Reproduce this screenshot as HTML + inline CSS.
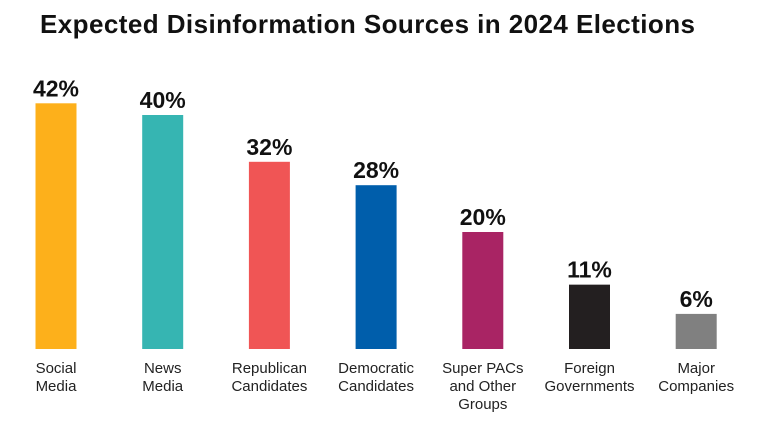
<!DOCTYPE html>
<html><head><meta charset="utf-8"><style>
body{margin:0;width:758px;height:423px;background:#fff;overflow:hidden;font-family:"Liberation Sans",sans-serif}
</style></head><body>
<svg width="758" height="423">
<text x="40" y="33" font-size="26" font-weight="bold" fill="#111" textLength="655" lengthAdjust="spacing">Expected  Disinformation Sources in 2024 Elections</text>
<g id="bars"></g>
</svg>
<script>
const categories=[["Social","Media"],["News","Media"],["Republican","Candidates"],["Democratic","Candidates"],["Super PACs","and Other","Groups"],["Foreign","Governments"],["Major","Companies"]];
const values=[42,40,32,28,20,11,6];
const colors=["#fdb01b","#36b5b2","#f05555","#005eab","#a92464","#231f20","#808080"];
const base=349,scale=5.85,x0=56,step=106.7,bw=41;
const y=v=>base-v*scale, x=i=>x0+i*step;
const g=document.getElementById('bars'),NS="http://www.w3.org/2000/svg";
values.forEach((v,i)=>{
 const r=document.createElementNS(NS,'rect');
 r.setAttribute('x',x(i)-bw/2);r.setAttribute('y',y(v));r.setAttribute('width',bw);r.setAttribute('height',v*scale);r.setAttribute('fill',colors[i]);
 
 
 g.appendChild(r);
 const t=document.createElementNS(NS,'text');
 t.setAttribute('x',x(i));t.setAttribute('y',y(v)-7);t.setAttribute('text-anchor','middle');t.setAttribute('font-size','23');t.setAttribute('font-weight','bold');t.setAttribute('fill','#111');
 t.textContent=v+'%';
 
 
 g.appendChild(t);
 categories[i].forEach((line,j)=>{
  const l=document.createElementNS(NS,'text');
  l.setAttribute('x',x(i));l.setAttribute('y',373+j*18);l.setAttribute('text-anchor','middle');l.setAttribute('font-size','15');l.setAttribute('fill','#222');
  l.textContent=line;
  
  
  g.appendChild(l);
 });
});
</script>
</body></html>
